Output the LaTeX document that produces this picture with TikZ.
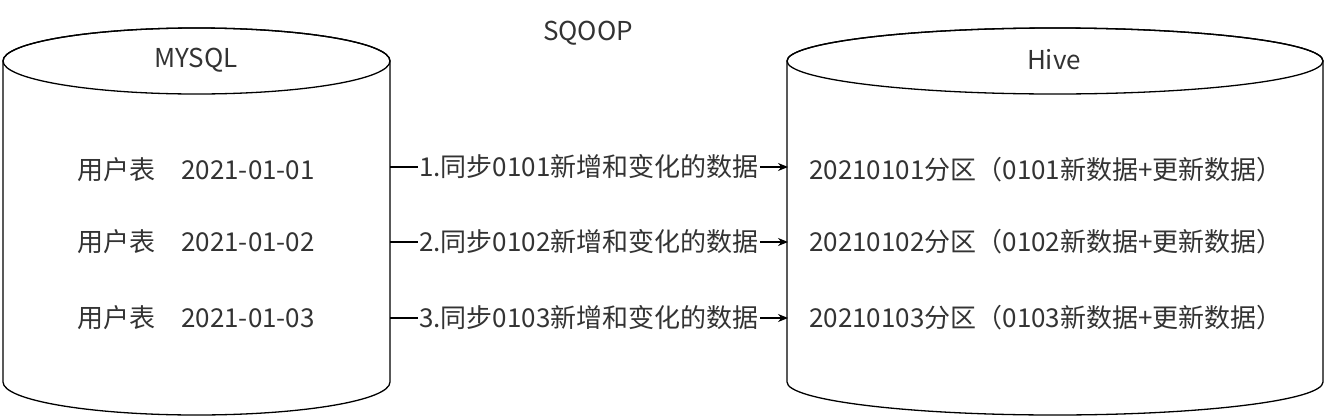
\documentclass[tikz,border=0pt]{standalone}
\usepackage{fontspec}
\setmainfont{Noto Sans CJK SC}
\usetikzlibrary{arrows.meta}
\definecolor{tx}{HTML}{333333}
\begin{document}
\begin{tikzpicture}[x=1pt,y=-1pt,
  lbl/.style={text=tx,font=\fontsize{26}{30}\selectfont,inner sep=1pt},
  cyl/.style={draw=black,line width=1.3pt,fill=white},
  arr/.style={draw=black,line width=1.2pt,-{Stealth[length=10pt,width=8pt]}}]
\useasboundingbox (0,0) rectangle (1344,418);
% left cylinder
\path[cyl] (3,61) -- (3,382) arc[start angle=180,end angle=360,x radius=193.5,y radius=-33] -- (390,61) arc[start angle=0,end angle=180,x radius=193.5,y radius=-33] -- cycle;
\draw[line width=1.3pt] (196.5,61) ellipse[x radius=193.5,y radius=33];
% right cylinder
\path[cyl] (787,61) -- (787,382) arc[start angle=180,end angle=360,x radius=268,y radius=-33] -- (1323,61) arc[start angle=0,end angle=180,x radius=268,y radius=-33] -- cycle;
\draw[line width=1.3pt] (1055,61) ellipse[x radius=268,y radius=33];
\node[lbl] (mysql) at (196,60) {MYSQL};
\node[lbl] (hive) at (1054,60) {Hive};
\node[lbl] (sqoop) at (588,33) {SQOOP};
\node[lbl] (l1) at (196,170) {用户表\quad 2021-01-01};
\node[lbl] (l2) at (196,242) {用户表\quad 2021-01-02};
\node[lbl] (l3) at (196,318) {用户表\quad 2021-01-03};
\node[lbl] (r1) at (1046,170) {20210101分区（0101新数据+更新数据）};
\node[lbl] (r2) at (1046,242) {20210102分区（0102新数据+更新数据）};
\node[lbl] (r3) at (1046,318) {20210103分区（0103新数据+更新数据）};
\coordinate (a1) at (390,167); \coordinate (b1) at (788,167);
\coordinate (a2) at (390,242); \coordinate (b2) at (788,242);
\coordinate (a3) at (390,318); \coordinate (b3) at (788,318);
\draw[arr] (a1) -- node[lbl,fill=white,xshift=0pt]{1.同步0101新增和变化的数据} (b1);
\draw[arr] (a2) -- node[lbl,fill=white,xshift=0pt]{2.同步0102新增和变化的数据} (b2);
\draw[arr] (a3) -- node[lbl,fill=white,xshift=0pt]{3.同步0103新增和变化的数据} (b3);
\end{tikzpicture}
\end{document}
